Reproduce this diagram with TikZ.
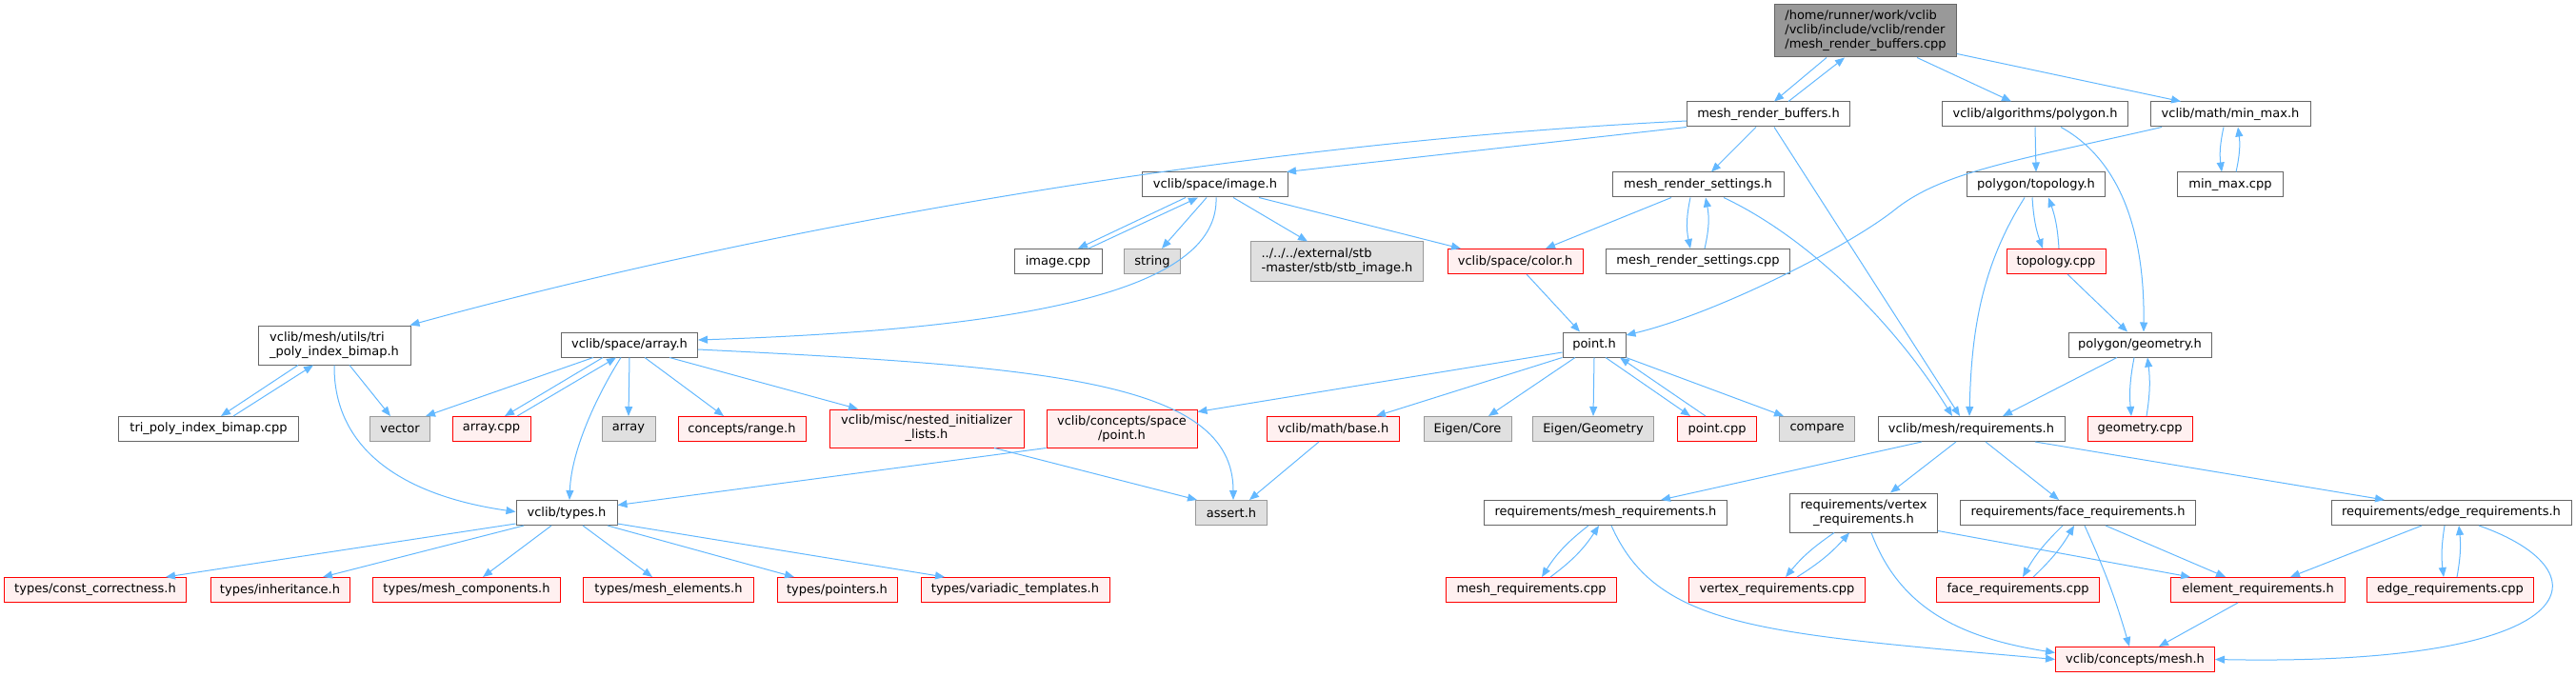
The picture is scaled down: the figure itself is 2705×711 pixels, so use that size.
\documentclass[tikz,border=0pt]{standalone}
\usepackage{fontspec}
\setmainfont{DejaVu Sans}
\usetikzlibrary{arrows.meta}
\definecolor{edgeblue}{HTML}{63B8FF}
\definecolor{boxline}{HTML}{666666}
\definecolor{mainfill}{HTML}{999999}
\definecolor{redline}{HTML}{FF0000}
\definecolor{redfill}{HTML}{FFF0F0}
\definecolor{extline}{HTML}{999999}
\definecolor{extfill}{HTML}{E0E0E0}
\begin{document}
\begin{tikzpicture}[x=1pt, y=-1pt,
  box/.style={draw=boxline, fill=white, line width=1pt, inner sep=0pt, minimum height=26pt, font=\fontsize{13}{15}\selectfont},
  mainbox/.style={box, fill=mainfill, minimum height=55pt, align=left},
  redbox/.style={box, draw=redline, fill=redfill},
  extbox/.style={box, draw=extline, fill=extfill},
  dep/.style={draw=edgeblue, line width=1pt, -{Triangle[length=10pt,width=8pt]}}]
\useasboundingbox (0,0) rectangle (2705,711);

\node[mainbox, minimum width=191pt] (main) at (1959,32.5) {/home/runner/work/vclib\\/vclib/include/vclib/render\\/mesh\_render\_buffers.cpp};
\node[box, minimum width=171pt] (mrbh) at (1857,120) {mesh\_render\_buffers.h};
\node[box, minimum width=195pt] (polygon) at (2137,120) {vclib/algorithms/polygon.h};
\node[box, minimum width=168pt] (minmax) at (2342,120) {vclib/math/min\_max.h};
\node[box, minimum width=153pt] (imageh) at (1276,194) {vclib/space/image.h};
\node[box, minimum width=180pt] (mrsh) at (1783,194) {mesh\_render\_settings.h};
\node[box, minimum width=145pt] (topoh) at (2138,194) {polygon/topology.h};
\node[box, minimum width=111pt] (minmaxcpp) at (2342,194) {min\_max.cpp};
\node[box, minimum width=92pt] (imagecpp) at (1111,274.5) {image.cpp};
\node[extbox, minimum width=59pt] (string) at (1210,274.5) {string};
\node[extbox, minimum width=181pt, minimum height=41pt, align=left] (stb) at (1404,274.5) {../../../external/stb\\-master/stb/stb\_image.h};
\node[redbox, minimum width=142pt] (color) at (1591,274.5) {vclib/space/color.h};
\node[box, minimum width=193pt] (mrscpp) at (1783,274.5) {mesh\_render\_settings.cpp};
\node[redbox, minimum width=104pt] (topocpp) at (2159,274.5) {topology.cpp};
\node[box, minimum width=160pt, minimum height=41pt, align=left] (tripolyh) at (351,362.5) {vclib/mesh/utils/tri\\\_poly\_index\_bimap.h};
\node[box, minimum width=143pt] (arrayh) at (661,362) {vclib/space/array.h};
\node[box, minimum width=66pt] (pointh) at (1674,362) {point.h};
\node[box, minimum width=150pt] (geomh) at (2247,362) {polygon/geometry.h};
\node[box, minimum width=189pt] (tripolycpp) at (219,450.5) {tri\_poly\_index\_bimap.cpp};
\node[extbox, minimum width=63pt] (vector) at (420,450.5) {vector};
\node[redbox, minimum width=82pt] (arraycpp) at (516,450.5) {array.cpp};
\node[extbox, minimum width=56pt] (array) at (660,450.5) {array};
\node[redbox, minimum width=134pt] (range) at (779,450.5) {concepts/range.h};
\node[redbox, minimum width=204pt, minimum height=40pt, align=center] (nested) at (973,450) {vclib/misc/nested\_initializer\\\_lists.h};
\node[redbox, minimum width=158pt, minimum height=40pt, align=center] (cpoint) at (1178,450) {vclib/concepts/space\\/point.h};
\node[redbox, minimum width=139pt] (mathbase) at (1400,450.5) {vclib/math/base.h};
\node[extbox, minimum width=92pt] (eigencore) at (1541,450.5) {Eigen/Core};
\node[extbox, minimum width=127pt] (eigengeo) at (1673,450.5) {Eigen/Geometry};
\node[redbox, minimum width=83pt] (pointcpp) at (1803,450.5) {point.cpp};
\node[extbox, minimum width=79pt] (compare) at (1908,450.5) {compare};
\node[box, minimum width=196pt] (reqh) at (2070,450.5) {vclib/mesh/requirements.h};
\node[redbox, minimum width=110pt] (geomcpp) at (2247,450.5) {geometry.cpp};
\node[box, minimum width=106pt] (typesh) at (595,538.5) {vclib/types.h};
\node[extbox, minimum width=75pt] (assert) at (1293,538.5) {assert.h};
\node[box, minimum width=255pt] (meshreqh) at (1686,538.5) {requirements/mesh\_requirements.h};
\node[box, minimum width=155pt, minimum height=41pt, align=center] (vertreqh) at (1957,538.5) {requirements/vertex\\\_requirements.h};
\node[box, minimum width=247pt] (facereqh) at (2182,538.5) {requirements/face\_requirements.h};
\node[box, minimum width=252pt] (edgereqh) at (2574,538.5) {requirements/edge\_requirements.h};
\node[redbox, minimum width=191pt] (constcorr) at (100,619.5) {types/const\_correctness.h};
\node[redbox, minimum width=146pt] (inherit) at (294,619.5) {types/inheritance.h};
\node[redbox, minimum width=197pt] (meshcomp) at (490,619.5) {types/mesh\_components.h};
\node[redbox, minimum width=179pt] (meshelem) at (702,619.5) {types/mesh\_elements.h};
\node[redbox, minimum width=126pt] (pointers) at (879,619.5) {types/pointers.h};
\node[redbox, minimum width=198pt] (variadic) at (1066,619.5) {types/variadic\_templates.h};
\node[redbox, minimum width=179pt] (meshreqcpp) at (1608,619.5) {mesh\_requirements.cpp};
\node[redbox, minimum width=185pt] (vertreqcpp) at (1866,619.5) {vertex\_requirements.cpp};
\node[redbox, minimum width=171pt] (facereqcpp) at (2119,619.5) {face\_requirements.cpp};
\node[redbox, minimum width=183pt] (elemreqh) at (2371,619.5) {element\_requirements.h};
\node[redbox, minimum width=175pt] (edgereqcpp) at (2573,619.5) {edge\_requirements.cpp};
\node[redbox, minimum width=167pt] (cmesh) at (2242,692.5) {vclib/concepts/mesh.h};

\draw[dep] ([xshift=-41pt]main.south) -- ([xshift=6pt]mrbh.north);
\draw[dep] ([xshift=21pt]mrbh.north) -- ([xshift=-22pt]main.south);
\draw[dep] ([xshift=54pt]main.south) -- ([xshift=-25pt]polygon.north);
\draw[dep] ([yshift=4pt]main.south east) -- ([xshift=-52pt]minmax.north);
\draw[dep] (mrbh.south west) -- ([xshift=-2pt]imageh.north east);
\draw[dep] ([yshift=-7pt]mrbh.west) .. controls (1300,150) and (800,240) .. ([xshift=-1pt]tripolyh.north east);
\draw[dep] ([xshift=-13pt]mrbh.south) -- ([xshift=14pt]mrsh.north);
\draw[dep] ([xshift=6pt]mrbh.south) -- ([xshift=-12pt]reqh.north);
\draw[dep] ([xshift=27pt]mrsh.south) .. controls (1900,250) and (1990,340) .. ([xshift=-20pt]reqh.north);
\draw[dep] ([xshift=-12pt]topoh.south) .. controls (2080,280) and (2070,350) .. ([xshift=-2pt]reqh.north);
\draw[dep] ([xshift=-31pt]imageh.south) -- ([xshift=21pt]imagecpp.north);
\draw[dep] ([xshift=32pt]imagecpp.north) -- ([xshift=-18pt]imageh.south);
\draw[dep] ([xshift=-9pt]imageh.south) -- ([xshift=10pt]string.north);
\draw[dep] ([xshift=19pt]imageh.south) -- ([xshift=-31pt]stb.north);
\draw[dep] ([xshift=46pt]imageh.south) -- ([xshift=-57pt]color.north);
\draw[dep] ([xshift=1pt]imageh.south) .. controls (1280,300) and (1100,345) .. ([yshift=5pt]arrayh.east);
\draw[dep] ([xshift=-28pt]mrsh.south) -- ([xshift=32pt]color.north);
\draw[dep] ([xshift=-8pt]mrsh.south) to[bend right=12] ([xshift=-8pt]mrscpp.north);
\draw[dep] ([xshift=7pt]mrscpp.north) to[bend right=12] ([xshift=8pt]mrsh.south);
\draw[dep] ([xshift=12pt]color.south) -- ([xshift=-15pt]pointh.north);
\draw[dep] ([xshift=-72pt]minmax.south) .. controls (2120,168) and (2040,180) .. (1990,220) .. controls (1940,260) and (1800,330) .. ([yshift=10pt]pointh.east);
\draw[dep] ([xshift=-7pt]minmax.south) to[bend right=10] ([xshift=-9pt]minmaxcpp.north);
\draw[dep] ([xshift=6pt]minmaxcpp.north) to[bend right=10] ([xshift=8pt]minmax.south);
\draw[dep] (polygon.south) -- (topoh.north);
\draw[dep] ([xshift=27pt]polygon.south) .. controls (2230,170) and (2252,250) .. ([xshift=4pt]geomh.north);
\draw[dep] ([xshift=-4pt]topoh.south) to[bend right=8] ([xshift=-14pt]topocpp.north);
\draw[dep] ([xshift=3pt]topocpp.north) to[bend right=8] ([xshift=13pt]topoh.south);
\draw[dep] ([xshift=12pt]topocpp.south) -- ([xshift=-13pt]geomh.north);
\draw[dep] ([xshift=-24pt]geomh.south) -- ([xshift=33pt]reqh.north);
\draw[dep] ([xshift=-6pt]geomh.south) to[bend right=8] ([xshift=-9pt]geomcpp.north);
\draw[dep] ([xshift=7pt]geomcpp.north) to[bend right=8] ([xshift=8pt]geomh.south);
\draw[dep] ([xshift=-38pt]tripolyh.south) -- ([xshift=13pt]tripolycpp.north);
\draw[dep] ([xshift=26pt]tripolycpp.north) -- ([xshift=-22pt]tripolyh.south);
\draw[dep] ([xshift=16pt]tripolyh.south) -- ([xshift=-10pt]vector.north);
\draw[dep] (tripolyh.south) .. controls (350,470) and (420,520) .. ([yshift=1pt]typesh.west);
\draw[dep] ([xshift=-38pt]arrayh.south) -- ([xshift=27pt]vector.north);
\draw[dep] ([xshift=-28pt]arrayh.south) -- ([xshift=14pt]arraycpp.north);
\draw[dep] ([xshift=27pt]arraycpp.north) -- ([xshift=-14pt]arrayh.south);
\draw[dep] (arrayh.south) -- (array.north);
\draw[dep] ([xshift=-9pt]arrayh.south) .. controls (630,410) and (600,470) .. ([xshift=3pt]typesh.north);
\draw[dep] ([xshift=16pt]arrayh.south) -- ([xshift=-19pt]range.north);
\draw[dep] ([xshift=42pt]arrayh.south) -- ([xshift=-72pt]nested.north);
\draw[dep] ([yshift=-5pt]arrayh.east) .. controls (1100,385) and (1295,400) .. ([xshift=2pt]assert.north);
\draw[dep] ([xshift=71pt]nested.south) -- ([xshift=2pt]assert.north west);
\draw[dep] (cpoint.south west) -- ([yshift=8pt]typesh.east);
\draw[dep] ([yshift=-8pt]pointh.west) -- ([yshift=-3pt]cpoint.north east);
\draw[dep] (pointh.south west) -- ([xshift=45pt]mathbase.north);
\draw[dep] ([xshift=-20pt]pointh.south) -- ([xshift=22pt]eigencore.north);
\draw[dep] (pointh.south) -- (eigengeo.north);
\draw[dep] ([xshift=12pt]pointh.south) -- ([xshift=-28pt]pointcpp.north);
\draw[dep] ([xshift=-12pt]pointcpp.north) -- ([xshift=27pt]pointh.south);
\draw[dep] (pointh.south east) -- ([xshift=-35pt]compare.north);
\draw[dep] ([xshift=-15pt]mathbase.south) -- ([xshift=19pt]assert.north);
\draw[dep] ([yshift=2pt]typesh.south west) -- ([xshift=74pt]constcorr.north);
\draw[dep] ([xshift=-45pt]typesh.south) -- ([xshift=45pt]inherit.north);
\draw[dep] ([xshift=-16pt]typesh.south) -- ([xshift=17pt]meshcomp.north);
\draw[dep] ([xshift=17pt]typesh.south) -- ([xshift=-17pt]meshelem.north);
\draw[dep] ([xshift=43pt]typesh.south) -- ([xshift=-45pt]pointers.north);
\draw[dep] ([yshift=2pt]typesh.south east) -- ([xshift=-74pt]variadic.north);
\draw[dep] ([xshift=-52pt]reqh.south) -- ([xshift=58pt]meshreqh.north);
\draw[dep] ([xshift=-16pt]reqh.south) -- ([xshift=28pt]vertreqh.north);
\draw[dep] ([xshift=15pt]reqh.south) -- ([xshift=-20pt]facereqh.north);
\draw[dep] ([xshift=67pt]reqh.south) -- ([xshift=-70pt]edgereqh.north);
\draw[dep] ([xshift=-18pt]meshreqh.south) to[bend right=10] ([xshift=11pt]meshreqcpp.north);
\draw[dep] ([xshift=20pt]meshreqcpp.north) to[bend right=10] ([xshift=-7pt]meshreqh.south);
\draw[dep] ([xshift=6pt]meshreqh.south) .. controls (1740,660) and (1850,665) .. (cmesh.west);
\draw[dep] ([xshift=-31pt]vertreqh.south) to[bend right=8] ([xshift=9pt]vertreqcpp.north);
\draw[dep] ([xshift=21pt]vertreqcpp.north) to[bend right=8] ([xshift=-15pt]vertreqh.south);
\draw[dep] ([yshift=-19pt]vertreqh.east) -- ([xshift=-71pt]elemreqh.north);
\draw[dep] ([xshift=8pt]vertreqh.south) .. controls (1995,640) and (2060,670) .. ([yshift=7pt]cmesh.west);
\draw[dep] ([xshift=-16pt]facereqh.south) to[bend right=8] ([xshift=5pt]facereqcpp.north);
\draw[dep] ([xshift=16pt]facereqcpp.north) to[bend right=8] ([xshift=-4pt]facereqh.south);
\draw[dep] ([xshift=29pt]facereqh.south) -- ([xshift=-34pt]elemreqh.north);
\draw[dep] ([xshift=7pt]facereqh.south) to[bend left=4] ([xshift=-6pt]cmesh.north);
\draw[dep] ([xshift=-31pt]edgereqh.south) -- ([xshift=34pt]elemreqh.north);
\draw[dep] ([xshift=-7pt]edgereqh.south) to[bend right=8] ([xshift=-7pt]edgereqcpp.north);
\draw[dep] ([xshift=7pt]edgereqcpp.north) to[bend right=8] ([xshift=8pt]edgereqh.south);
\draw[dep] ([xshift=29pt]edgereqh.south) .. controls (2740,600) and (2720,700) .. (cmesh.east);
\draw[dep] ([xshift=-21pt]elemreqh.south) -- ([xshift=25pt]cmesh.north);
\end{tikzpicture}
\end{document}
